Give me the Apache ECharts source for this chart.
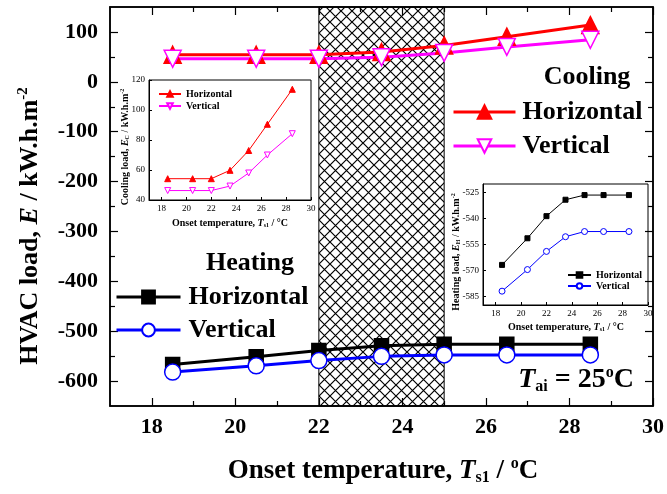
<!DOCTYPE html>
<html>
<head>
<meta charset="utf-8">
<script src="https://cdn.jsdelivr.net/npm/echarts@6/dist/echarts.min.js"></script>
<style>
html,body{margin:0;padding:0;background:#fff;}
#chart{width:667px;height:494px;}
</style>
</head>
<body>
<div id="chart"></div>
<script>
// onset temperatures (x) and loads
var temps = [18.5, 20.5, 22, 23.5, 25, 26.5, 28.5];
var coolH = [54.2, 54.2, 54.2, 59.8, 73, 90.5, 113.8];
var coolV = [46.3, 46.3, 46.3, 49.3, 58, 70, 84.2];
var heatH = [-566.8, -551.4, -538.6, -529.1, -526.4, -526.4, -526.4];
var heatV = [-582, -569.5, -559, -550.5, -547.5, -547.5, -547.5];
var shadeRange = [22, 25];

// tick labels
var mainXTicks = [18, 20, 22, 24, 26, 28, 30];
var mainXMinor = [19, 21, 23, 25, 27, 29];
var mainYTicks = [-600, -500, -400, -300, -200, -100, 0, 100];
var mainYMinor = [-550, -450, -350, -250, -150, -50, 50];
var insetXTicks = [18, 20, 22, 24, 26, 28, 30];
var coolYTicks = [40, 60, 80, 100, 120];
var heatYTicks = [-585, -570, -555, -540, -525];

var FONT = 'Liberation Serif';

function pts(ys) {
    var out = [];
    for (var i = 0; i < temps.length; i++) out.push([temps[i], ys[i]]);
    return out;
}

// cross hatch tile for the shaded band
var tile = document.createElement('canvas');
tile.width = 11; tile.height = 11;
var c = tile.getContext('2d');
c.strokeStyle = '#000';
c.lineWidth = 1.2;
c.beginPath();
c.moveTo(0, 0); c.lineTo(11, 11);
c.moveTo(11, 0); c.lineTo(0, 11);
c.stroke();

function decoAxis(gridIndex, position, min, max, values, len, showLine) {
    return {
        type: 'value', gridIndex: gridIndex, position: position, min: min, max: max,
        axisLine: {show: showLine, onZero: false, lineStyle: {color: '#000', width: 1.5}},
        axisTick: {show: true, inside: true, length: len, customValues: values, lineStyle: {color: '#000', width: 1.2}},
        axisLabel: {show: false},
        splitLine: {show: false}
    };
}

var tickFont = {fontFamily: FONT, fontWeight: 'bold', fontSize: 22, color: '#000'};
var insetFont = {fontFamily: FONT, fontSize: 9, color: '#000'};

var xAxes = [
    {
        type: 'value', gridIndex: 0, position: 'bottom', min: 17, max: 30,
        axisLine: {onZero: false, lineStyle: {color: '#000', width: 1.5}},
        axisTick: {inside: true, length: 8, customValues: mainXTicks, lineStyle: {color: '#000', width: 1.2}},
        axisLabel: Object.assign({customValues: mainXTicks, margin: 10}, tickFont),
        splitLine: {show: false}
    },
    {
        type: 'value', gridIndex: 1, min: 17, max: 30,
        axisLine: {onZero: false, lineStyle: {color: '#000', width: 1}},
        axisTick: {inside: true, length: 3, customValues: insetXTicks, lineStyle: {color: '#000'}},
        axisLabel: Object.assign({customValues: insetXTicks, margin: 4}, insetFont),
        splitLine: {show: false}
    },
    {
        type: 'value', gridIndex: 2, min: 17, max: 30,
        axisLine: {onZero: false, lineStyle: {color: '#000', width: 1}},
        axisTick: {inside: true, length: 3, customValues: insetXTicks, lineStyle: {color: '#000'}},
        axisLabel: Object.assign({customValues: insetXTicks, margin: 4}, insetFont),
        splitLine: {show: false}
    },
    decoAxis(0, 'top', 17, 30, mainXTicks, 8, true),
    decoAxis(0, 'bottom', 17, 30, mainXMinor, 5, false),
    decoAxis(0, 'top', 17, 30, mainXMinor, 5, false)
];

var yAxes = [
    {
        type: 'value', gridIndex: 0, position: 'left', min: -650, max: 150,
        axisLine: {show: true, onZero: false, lineStyle: {color: '#000', width: 1.5}},
        axisTick: {show: true, inside: true, length: 8, customValues: mainYTicks, lineStyle: {color: '#000', width: 1.2}},
        axisLabel: Object.assign({customValues: mainYTicks, margin: 12}, tickFont),
        splitLine: {show: false}
    },
    {
        type: 'value', gridIndex: 1, min: 40, max: 120,
        axisLine: {show: true, lineStyle: {color: '#000', width: 1}},
        axisTick: {show: true, inside: true, length: 3, customValues: coolYTicks, lineStyle: {color: '#000'}},
        axisLabel: Object.assign({customValues: coolYTicks, margin: 4}, insetFont),
        splitLine: {show: false}
    },
    {
        type: 'value', gridIndex: 2, min: -590, max: -520,
        axisLine: {show: true, lineStyle: {color: '#000', width: 1}},
        axisTick: {show: true, inside: true, length: 3, customValues: heatYTicks, lineStyle: {color: '#000'}},
        axisLabel: Object.assign({customValues: heatYTicks, margin: 4}, insetFont),
        splitLine: {show: false}
    },
    decoAxis(0, 'right', -650, 150, mainYTicks, 8, true),
    decoAxis(0, 'left', -650, 150, mainYMinor, 5, false),
    decoAxis(0, 'right', -650, 150, mainYMinor, 5, false)
];

function mainLine(name, data, color, symbol, size, filled, rotate) {
    return {
        name: name, type: 'line', xAxisIndex: 0, yAxisIndex: 0,
        data: pts(data), symbol: symbol, symbolSize: size, symbolRotate: rotate || 0,
        showAllSymbol: true, z: 5,
        lineStyle: {color: color, width: 3},
        itemStyle: {color: filled ? color : '#fff', borderColor: color, borderWidth: 1.5},
        emphasis: {disabled: true}
    };
}

function insetLine(name, idx, data, color, symbol, size, filled, rotate) {
    return {
        name: name, type: 'line', xAxisIndex: idx, yAxisIndex: idx,
        data: pts(data), symbol: symbol, symbolSize: size, symbolRotate: rotate || 0,
        lineStyle: {color: color, width: 1},
        itemStyle: {color: filled ? color : '#fff', borderColor: color, borderWidth: 1},
        emphasis: {disabled: true}
    };
}

var series = [
    mainLine('Cooling Horizontal', coolH, '#ff0000', 'triangle', 17, true),
    mainLine('Cooling Vertical', coolV, '#ff00ff', 'triangle', 17, false, 180),
    mainLine('Heating Horizontal', heatH, '#000000', 'rect', 14, true),
    mainLine('Heating Vertical', heatV, '#0000ff', 'circle', 16, false),
    insetLine('CoolInset Horizontal', 1, coolH, '#ff0000', 'triangle', 6, true),
    insetLine('CoolInset Vertical', 1, coolV, '#ff00ff', 'triangle', 6, false, 180),
    insetLine('HeatInset Horizontal', 2, heatH, '#000000', 'rect', 5, true),
    insetLine('HeatInset Vertical', 2, heatV, '#0000ff', 'circle', 6, false)
];
// hatched band
series[0].markArea = {
    silent: true,
    itemStyle: {color: {image: tile, repeat: 'repeat'}, borderColor: '#000', borderWidth: 1},
    data: [[{xAxis: shadeRange[0]}, {xAxis: shadeRange[1]}]]
};

function stripName(n) { return n.split(' ')[1]; }
var bigLegend = {fontFamily: FONT, fontWeight: 'bold', fontSize: 26, color: '#000'};
var smallLegend = {fontFamily: FONT, fontWeight: 'bold', fontSize: 10, color: '#000'};

var legends = [
    {data: ['Cooling Horizontal', 'Cooling Vertical'], orient: 'vertical', left: 452, top: 99, padding: 0,
        itemWidth: 62, itemHeight: 17, itemGap: 8, formatter: stripName, textStyle: Object.assign({padding: [0, 0, 0, 2]}, bigLegend),
        lineStyle: {width: 3}, selectedMode: false},
    {data: ['Heating Horizontal', 'Heating Vertical'], orient: 'vertical', left: 115, top: 284, padding: 0,
        itemWidth: 64, itemHeight: 16, itemGap: 7, formatter: stripName, textStyle: Object.assign({padding: [0, 0, 0, 3]}, bigLegend),
        lineStyle: {width: 3}, selectedMode: false},
    {data: ['CoolInset Horizontal', 'CoolInset Vertical'], orient: 'vertical', left: 158, top: 89, padding: 0,
        itemWidth: 22, itemHeight: 7, itemGap: 2, formatter: stripName, textStyle: smallLegend, selectedMode: false},
    {data: ['HeatInset Horizontal', 'HeatInset Vertical'], orient: 'vertical', left: 567, top: 270, padding: 0,
        itemWidth: 23, itemHeight: 7, itemGap: 1, formatter: stripName, textStyle: smallLegend, selectedMode: false}
];

function richBase(size) {
    return {
        a: {fontFamily: FONT, fontWeight: 'bold', fontSize: size, fill: '#000'},
        i: {fontFamily: FONT, fontWeight: 'bold', fontStyle: 'italic', fontSize: size, fill: '#000'},
        s: {fontFamily: FONT, fontWeight: 'bold', fontSize: Math.round(size * 0.58), fill: '#000', padding: [Math.round(size * 0.5), 0, 0, 0]},
        p: {fontFamily: FONT, fontWeight: 'bold', fontSize: Math.round(size * 0.58), fill: '#000', padding: [0, 0, Math.round(size * 0.5), 0]}
    };
}

function label(x, y, text, size, rot) {
    return {
        type: 'text', x: x, y: y, rotation: rot || 0, z: 20,
        style: {text: text, rich: richBase(size), align: 'center', verticalAlign: 'middle',
            fontFamily: FONT, fontWeight: 'bold', fontSize: size, fill: '#000'}
    };
}

var graphics = [
    label(383, 471, '{a|Onset temperature, }{i|T}{s|s1}{a| / }{p|o}{a|C}', 27),
    label(30, 226, '{a|HVAC load, }{i|E}{a| / kW.h.m}{p|-2}', 26, Math.PI / 2),
    label(587, 77, '{a|Cooling}', 26),
    label(250, 263, '{a|Heating}', 26),
    label(576, 380, '{i|T}{s|ai}{a| = 25}{p|o}{a|C}', 28),
    label(230, 223, '{a|Onset temperature, }{i|T}{s|s1}{a| / °C}', 10),
    label(125, 147, '{a|Cooling load, }{i|E}{s|C}{a| / kW.h.m}{p|-2}', 10, Math.PI / 2),
    label(566, 327, '{a|Onset temperature, }{i|T}{s|s1}{a| / °C}', 10),
    label(456, 252, '{a|Heating load, }{i|E}{s|H}{a| / kW.h.m}{p|-2}', 10, Math.PI / 2)
];

var chart = echarts.init(document.getElementById('chart'));
chart.setOption({
    animation: false,
    backgroundColor: '#fff',
    grid: [
        {left: 110, right: 11, top: 7, bottom: 88, show: true, borderColor: '#000', borderWidth: 1.5},
        {left: 149, top: 80, width: 162, height: 120, show: true, borderColor: '#000', borderWidth: 1, backgroundColor: '#fff'},
        {left: 483, top: 184, width: 165, height: 121, show: true, borderColor: '#000', borderWidth: 1, backgroundColor: '#fff'}
    ],
    xAxis: xAxes,
    yAxis: yAxes,
    legend: legends,
    series: series,
    graphic: graphics
});
</script>
</body>
</html>
